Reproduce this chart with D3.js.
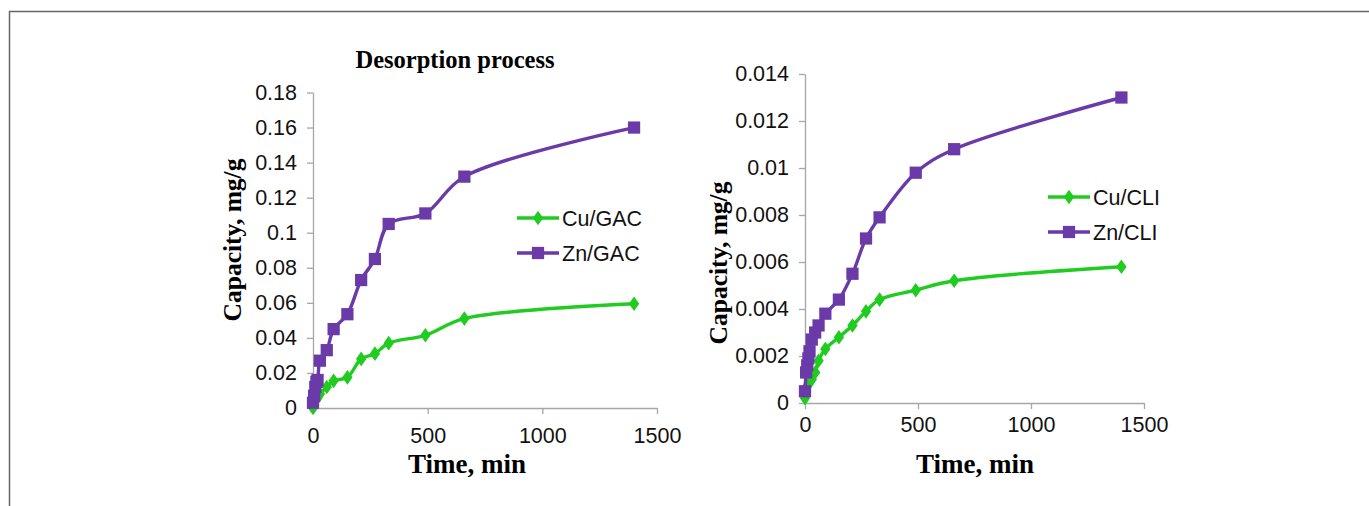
<!DOCTYPE html>
<html><head><meta charset="utf-8">
<script src="https://cdn.jsdelivr.net/npm/d3@7"></script>
<style>
html,body{margin:0;padding:0;background:#fff;}
svg{display:block;}
</style></head>
<body>
<svg id="c" width="1369" height="506"></svg>
<script>
// ---- data ----
const timesGAC = [0, 5, 10, 15, 20, 30, 60, 90, 150, 210, 270, 330, 490, 660, 1400];
const cuGAC = [0, 0.002, 0.004, 0.005, 0.006, 0.008, 0.012, 0.0155, 0.0175, 0.028, 0.031, 0.037, 0.0415, 0.051, 0.0595];
const znGAC = [0.003, 0.007, 0.012, 0.015, 0.016, 0.027, 0.033, 0.045, 0.0535, 0.073, 0.085, 0.105, 0.111, 0.132, 0.160];

const timesCLI = [0, 5, 10, 15, 20, 30, 45, 60, 90, 150, 210, 270, 330, 490, 660, 1400];
const cuCLI = [0.0002, 0.0005, 0.0007, 0.0008, 0.0009, 0.0010, 0.0013, 0.0018, 0.0023, 0.0028, 0.0033, 0.0039, 0.0044, 0.0048, 0.0052, 0.0058];
const znCLI = [0.0005, 0.0013, 0.0016, 0.0019, 0.0022, 0.0027, 0.0030, 0.0033, 0.0038, 0.0044, 0.0055, 0.0070, 0.0079, 0.0098, 0.0108, 0.0130];

const xTicks = [0, 500, 1000, 1500];
const yTicksGAC = [0, 0.02, 0.04, 0.06, 0.08, 0.1, 0.12, 0.14, 0.16, 0.18];
const yTickLabelsGAC = ["0","0.02","0.04","0.06","0.08","0.1","0.12","0.14","0.16","0.18"];
const yTicksCLI = [0, 0.002, 0.004, 0.006, 0.008, 0.01, 0.012, 0.014];
const yTickLabelsCLI = ["0","0.002","0.004","0.006","0.008","0.01","0.012","0.014"];

const GREEN = "#1fcc1f", PURPLE = "#6a3aa8";

const svg = d3.select("#c");
// outer frame
svg.append("rect").attr("x", 9.5).attr("y", 11.5).attr("width", 1400).attr("height", 520)
  .attr("fill", "none").attr("stroke", "#666").attr("stroke-width", 1.5);

function marker(shape) {
  return d3.symbol().type(shape === "sq" ? d3.symbolSquare : d3.symbolDiamond2).size(shape === "sq" ? 150 : 95);
}
function markerTf(shape) { return shape === "sq" ? "" : " scale(0.85,1.2)"; }

function panel(o) {
  const g = svg.append("g");
  const x = d3.scaleLinear().domain([0, 1500]).range([o.x0, o.x1]);
  const y = d3.scaleLinear().domain([0, o.ymax]).range([o.y0, o.y1]);

  // axes
  const xa = g.append("g").attr("transform", `translate(0,${o.y0})`)
    .call(d3.axisBottom(x).tickValues(xTicks).tickSize(6).tickSizeOuter(0).tickFormat(d3.format("d")));
  const ya = g.append("g").attr("transform", `translate(${o.x0},0)`)
    .call(d3.axisLeft(y).tickValues(o.yTicks).tickSize(6).tickSizeOuter(0).tickFormat((d, i) => o.yLabels[i]));
  [xa, ya].forEach(a => {
    a.select(".domain").attr("stroke", "#a6a6a6").attr("stroke-width", 1.3);
    a.selectAll(".tick line").attr("stroke", "#a6a6a6").attr("stroke-width", 1.3);
    a.selectAll(".tick text").attr("fill", "#111").attr("font-family", "Liberation Sans, Arial, sans-serif")
      .attr("font-size", 21.5);
  });
  xa.selectAll(".tick text").attr("dy", "0.71em").attr("y", o.xLabelOff);
  ya.selectAll(".tick text").attr("x", -16);

  const line = d3.line().x(d => x(d[0])).y(d => y(d[1])).curve(d3.curveCatmullRom.alpha(0.5));
  o.series.forEach(s => {
    const pts = o.times.map((t, i) => [t, s.vals[i]]);
    g.append("path").attr("d", line(pts)).attr("fill", "none").attr("stroke", s.color).attr("stroke-width", 3.4);
    g.selectAll(null).data(pts).enter().append("path")
      .attr("transform", d => `translate(${x(d[0])},${y(d[1])})${markerTf(s.shape)}`)
      .attr("d", marker(s.shape)).attr("fill", s.color);
  });

  // legend
  o.series.forEach((s, i) => {
    const ly = o.legY + i * 35;
    g.append("line").attr("x1", o.legX).attr("x2", o.legX + 42).attr("y1", ly).attr("y2", ly)
      .attr("stroke", s.color).attr("stroke-width", 3.4);
    g.append("path").attr("transform", `translate(${o.legX + 21},${ly})${markerTf(s.shape)}`)
      .attr("d", marker(s.shape)).attr("fill", s.color);
    g.append("text").attr("x", o.legX + 45).attr("y", ly).attr("dy", "0.36em")
      .attr("font-family", "Liberation Sans, Arial, sans-serif").attr("font-size", 21.5).attr("fill", "#111")
      .text(s.name);
  });

  // axis titles
  g.append("text").attr("transform", `translate(${o.ytX},${o.ytY}) rotate(-90)`).attr("text-anchor", "middle")
    .attr("font-family", "Liberation Serif, Times New Roman, serif").attr("font-weight", "bold").attr("font-size", 25.5)
    .text("Capacity, mg/g");
  g.append("text").attr("x", o.xtX).attr("y", o.xtY).attr("text-anchor", "middle")
    .attr("font-family", "Liberation Serif, Times New Roman, serif").attr("font-weight", "bold").attr("font-size", 27)
    .text("Time, min");
}

panel({
  x0: 313, x1: 657, y0: 408, y1: 92.5, ymax: 0.18,
  yTicks: yTicksGAC, yLabels: yTickLabelsGAC, times: timesGAC, xLabelOff: 20,
  series: [
    { name: "Cu/GAC", vals: cuGAC, color: GREEN, shape: "di" },
    { name: "Zn/GAC", vals: znGAC, color: PURPLE, shape: "sq" }
  ],
  legX: 517, legY: 218, ytX: 241, ytY: 240, xtX: 467, xtY: 473
});

panel({
  x0: 805, x1: 1144, y0: 403, y1: 74, ymax: 0.014,
  yTicks: yTicksCLI, yLabels: yTickLabelsCLI, times: timesCLI, xLabelOff: 14,
  series: [
    { name: "Cu/CLI", vals: cuCLI, color: GREEN, shape: "di" },
    { name: "Zn/CLI", vals: znCLI, color: PURPLE, shape: "sq" }
  ],
  legX: 1048, legY: 197, ytX: 727, ytY: 263, xtX: 975, xtY: 473
});

// chart title
svg.append("text").attr("x", 455).attr("y", 68).attr("text-anchor", "middle")
  .attr("font-family", "Liberation Serif, Times New Roman, serif").attr("font-weight", "bold").attr("font-size", 24.5)
  .text("Desorption process");
</script>
</body></html>
